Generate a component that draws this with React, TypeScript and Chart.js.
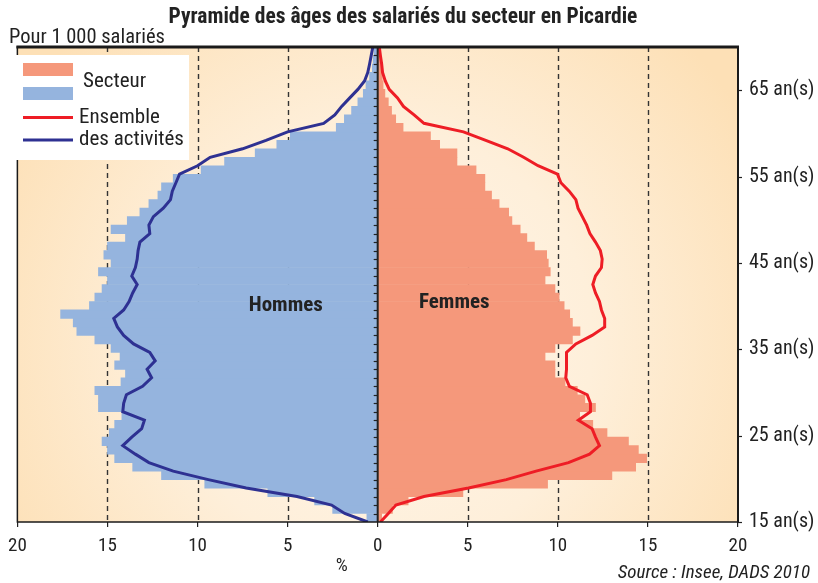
import { useEffect, useRef } from "react";
import { Chart, registerables } from "chart.js";

Chart.register(...registerables);

// ---- Data (per 1 000 salariés, %) ----
const barAges = [15,16,17,18,19,20,21,22,23,24,25,26,27,28,29,30,31,32,33,34,35,36,37,38,39,40,41,42,43,44,45,46,47,48,49,50,51,52,53,54,55,56,57,58,59,60,61,62,63,64,65,66,67,68,69,70];
const lineAges = [15,16,17,18,19,20,21,22,23,24,25,26,27,28,29,30,31,32,33,34,35,36,37,38,39,40,41,42,43,44,45,46,47,48,49,50,51,52,53,54,55,56,57,58,59,60,61,62,63,64,65,66,67,68,69,70,71];

const hommesSecteur = [0.6,2.5,3.5,6.1,9.6,12.0,13.6,14.6,15.0,15.3,14.9,14.6,14.2,15.5,15.5,15.7,14.25,14.0,14.6,14.3,14.8,15.7,16.7,16.9,17.6,16.0,15.7,15.3,15.0,15.5,14.8,15.2,15.0,14.0,14.8,13.9,13.2,12.7,12.2,12.0,11.35,9.8,8.5,6.8,5.6,4.85,2.3,1.85,1.45,1.1,0.8,0.65,0.45,0.3,0.25,0.2];
const femmesSecteur = [0.22,0.82,1.69,4.73,9.43,13.0,14.32,14.93,14.47,13.92,12.73,11.94,11.21,12.09,11.5,11.08,10.4,9.84,9.84,9.29,9.84,10.81,11.23,10.81,10.66,10.35,10.07,9.84,9.29,9.58,9.47,9.38,8.7,8.28,7.91,7.45,7.27,6.74,6.32,5.95,5.95,5.46,4.4,4.4,3.44,2.93,1.41,1.0,0.77,0.59,0.4,0.3,0.25,0.2,0.15,0.12];
const hommesEnsemble = [0.55,1.83,2.56,4.48,7.3,9.4,11.35,12.7,13.45,14.15,13.65,13.1,12.95,14.15,14.1,13.95,13.05,12.55,12.8,12.35,12.65,13.55,14.1,14.45,14.65,14.1,13.8,13.6,13.35,13.65,13.45,13.35,13.3,13.2,12.65,12.7,12.45,11.9,11.5,11.4,11.2,11.0,10.0,9.3,7.5,6.2,5.0,3.0,2.38,2.0,1.55,1.1,0.73,0.55,0.45,0.36,0.27];
const femmesEnsemble = [0.15,0.59,1.01,2.57,5.04,7.14,8.79,10.59,11.76,12.31,12.09,11.9,11.14,11.81,11.81,11.63,10.64,10.44,10.48,10.48,10.48,11.0,11.9,12.6,12.6,12.42,12.31,12.09,11.94,12.09,12.42,12.46,12.36,12.09,11.78,11.6,11.36,11.12,11.0,10.63,10.17,9.98,8.9,8.1,7.22,6.0,4.76,2.57,2.02,1.43,1.1,0.64,0.42,0.27,0.22,0.15,0.09];

const ageTickValues = [15, 25, 35, 45, 55, 65];
const ageTickLabels = ["15 an(s)", "25 an(s)", "35 an(s)", "45 an(s)", "55 an(s)", "65 an(s)"];
const gridValues = [-15, -10, -5, 5, 10, 15];

const TITLE = "Pyramide des âges des salariés du secteur en Picardie";
const SUBTITLE = "Pour 1 000 salariés";
const SOURCE = "Source : Insee, DADS 2010";

const BLUE = "#95b4de";
const SALMON = "#f5987b";
const NAVY = "#2e3192";
const RED = "#ee1d25";
const FONT = "'Liberation Sans Narrow', 'Arial Narrow', 'Roboto Condensed', 'DejaVu Sans Condensed', sans-serif";

const decor = {
  id: "decor",
  beforeDraw(chart: any) {
    const { ctx, chartArea: a } = chart;
    ctx.save();
    ctx.fillStyle = "#ffffff";
    ctx.fillRect(0, 0, chart.width, chart.height);
    const cx = (a.left + a.right) / 2;
    const cy = a.top + (a.bottom - a.top) * 0.62;
    const g = ctx.createRadialGradient(cx, cy, 0, cx, cy, 430);
    g.addColorStop(0, "#fff6ea");
    g.addColorStop(0.5, "#feefda");
    g.addColorStop(1, "#fde0b6");
    ctx.fillStyle = g;
    ctx.fillRect(a.left, a.top, a.right - a.left, a.bottom - a.top);
    const xs = chart.scales.x;
    ctx.strokeStyle = "#333";
    ctx.lineWidth = 1.4;
    ctx.setLineDash([5, 4]);
    gridValues.forEach((v) => {
      const px = Math.round(xs.getPixelForValue(v)) + 0.5;
      ctx.beginPath();
      ctx.moveTo(px, a.top);
      ctx.lineTo(px, a.bottom);
      ctx.stroke();
    });
    ctx.restore();
  },
  afterDatasetsDraw(chart: any) {
    const { ctx, chartArea: a } = chart;
    const xs = chart.scales.x;
    const ys = chart.scales.y;
    const y2 = chart.scales.y2;
    ctx.save();
    const x0 = xs.getPixelForValue(0);
    ctx.strokeStyle = "#222";
    ctx.lineWidth = 2;
    ctx.beginPath();
    ctx.moveTo(x0, a.top);
    ctx.lineTo(x0, a.bottom);
    ctx.stroke();
    ctx.lineWidth = 1.2;
    for (let age = 16; age <= 70; age++) {
      const py = Math.round(ys.getPixelForValue(age)) + 0.5;
      ctx.beginPath();
      ctx.moveTo(x0 - 4, py);
      ctx.lineTo(x0, py);
      ctx.stroke();
    }
    ageTickValues.forEach((v) => {
      const py = Math.round(y2.getPixelForValue(v)) + 0.5;
      ctx.beginPath();
      ctx.moveTo(a.right, py);
      ctx.lineTo(a.right + 4, py);
      ctx.stroke();
    });
    ctx.strokeStyle = "#1a1a1a";
    ctx.lineWidth = 1.5;
    ctx.strokeRect(a.left, a.top, a.right - a.left, a.bottom - a.top);
    ctx.lineWidth = 2;
    ctx.beginPath();
    ctx.moveTo(a.right, a.top);
    ctx.lineTo(a.right, a.bottom);
    ctx.stroke();
    ctx.lineWidth = 3;
    ctx.beginPath();
    ctx.moveTo(a.left - 1, a.top);
    ctx.lineTo(a.right + 1, a.top);
    ctx.stroke();
    // legend
    ctx.fillStyle = "#ffffff";
    ctx.fillRect(14, 55, 175, 105);
    ctx.fillStyle = SALMON;
    ctx.fillRect(23, 63, 50, 13);
    ctx.fillStyle = BLUE;
    ctx.fillRect(23, 87, 50, 13);
    ctx.lineWidth = 3;
    ctx.strokeStyle = RED;
    ctx.beginPath();
    ctx.moveTo(23, 117.5);
    ctx.lineTo(73, 117.5);
    ctx.stroke();
    ctx.strokeStyle = NAVY;
    ctx.beginPath();
    ctx.moveTo(23, 140);
    ctx.lineTo(73, 140);
    ctx.stroke();
    ctx.fillStyle = "#222";
    ctx.font = `21px ${FONT}`;
    ctx.textBaseline = "middle";
    ctx.textAlign = "left";
    ctx.fillText("Secteur", 83, 82);
    ctx.fillText("Ensemble", 79, 118);
    ctx.fillText("des activités", 79, 140);
    ctx.font = `bold 21px ${FONT}`;
    ctx.textAlign = "center";
    ctx.fillText("Hommes", xs.getPixelForValue(-5.1), ys.getPixelForValue(40.5));
    ctx.fillText("Femmes", xs.getPixelForValue(4.25), ys.getPixelForValue(40.8));
    ctx.restore();
  },
  afterDraw(chart: any) {
    const { ctx } = chart;
    const xs = chart.scales.x;
    ctx.save();
    ctx.fillStyle = "#222";
    ctx.textBaseline = "middle";
    ctx.textAlign = "center";
    ctx.font = `bold 21.5px ${FONT}`;
    ctx.fillText(TITLE, 403, 18);
    ctx.textAlign = "left";
    ctx.font = `20.5px ${FONT}`;
    ctx.fillText(SUBTITLE, 9, 38);
    ctx.textAlign = "center";
    ctx.font = `19px ${FONT}`;
    ctx.fillText("%", xs.getPixelForValue(-2), 566);
    ctx.textAlign = "right";
    ctx.font = `italic 19px ${FONT}`;
    ctx.fillText(SOURCE, 810, 573);
    ctx.restore();
  },
};

export default function App() {
  const ref = useRef<HTMLCanvasElement | null>(null);
  useEffect(() => {
    document.body.style.margin = "0";
    const canvas = ref.current;
    if (!canvas) return;
    const chart = new Chart(canvas, {
      type: "bar",
      data: {
        datasets: [
          {
            type: "line",
            label: "Ensemble hommes",
            data: lineAges.map((a, i) => ({ x: -hommesEnsemble[i], y: a })),
            borderColor: NAVY,
            borderWidth: 3,
            pointRadius: 0,
            tension: 0,
            fill: false,
            order: 1,
            xAxisID: "x",
            yAxisID: "y",
          } as any,
          {
            type: "line",
            label: "Ensemble femmes",
            data: lineAges.map((a, i) => ({ x: femmesEnsemble[i], y: a })),
            borderColor: RED,
            borderWidth: 3,
            pointRadius: 0,
            tension: 0,
            fill: false,
            order: 1,
            xAxisID: "x",
            yAxisID: "y",
          } as any,
          {
            type: "bar",
            label: "Hommes secteur",
            data: barAges.map((a, i) => ({ x: -hommesSecteur[i], y: a + 0.5 })),
            backgroundColor: BLUE,
            borderWidth: 0,
            grouped: false,
            barPercentage: 1,
            categoryPercentage: 1,
            order: 2,
            xAxisID: "x",
            yAxisID: "y",
          } as any,
          {
            type: "bar",
            label: "Femmes secteur",
            data: barAges.map((a, i) => ({ x: femmesSecteur[i], y: a + 0.5 })),
            backgroundColor: SALMON,
            borderWidth: 0,
            grouped: false,
            barPercentage: 1,
            categoryPercentage: 1,
            order: 2,
            xAxisID: "x",
            yAxisID: "y",
          } as any,
        ],
      },
      options: {
        indexAxis: "y",
        responsive: false,
        animation: false,
        devicePixelRatio: 1,
        events: [],
        layout: { padding: { left: 9, top: 47, right: 0, bottom: 0 } },
        plugins: { legend: { display: false }, tooltip: { enabled: false }, title: { display: false } },
        scales: {
          x: {
            type: "linear",
            min: -20,
            max: 20,
            offset: false,
            position: "bottom",
            afterFit: (s: any) => { s.height = 61; },
            ticks: {
              stepSize: 5,
              padding: 8,
              color: "#222",
              font: { family: FONT, size: 19 },
              callback: (v: any) => String(Math.abs(Number(v))),
            },
            grid: { drawOnChartArea: false, drawTicks: true, tickLength: 5, color: "#222", lineWidth: 1.2 },
            border: { display: false },
          },
          y: {
            type: "linear",
            min: 15,
            max: 71,
            offset: false,
            position: "left",
            display: false,
          },
          y2: {
            type: "linear",
            min: 15,
            max: 70,
            offset: false,
            position: "right",
            afterFit: (s: any) => { s.width = 80; },
            ticks: {
              stepSize: 5,
              padding: 3,
              color: "#222",
              font: { family: FONT, size: 20 },
              callback: (v: any) => ageTickLabels[ageTickValues.indexOf(Number(v))] ?? "",
            },
            grid: { display: false },
            border: { display: false },
          },
        },
      } as any,
      plugins: [decor],
    });
    return () => chart.destroy();
  }, []);
  return (
    <div style={{ width: 818, height: 583 }}>
      <canvas ref={ref} width={818} height={583} />
    </div>
  );
}
